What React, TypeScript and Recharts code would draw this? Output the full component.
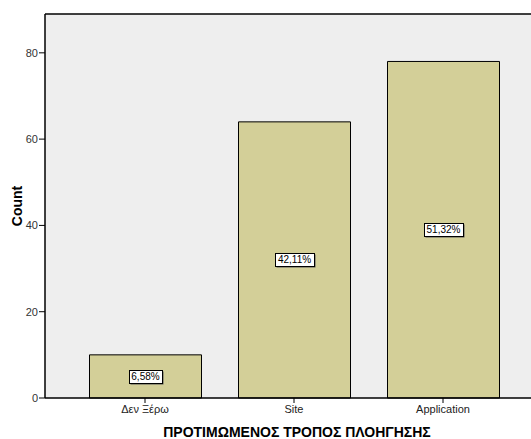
import React from 'react';
import { BarChart, Bar, XAxis, YAxis, CartesianGrid, LabelList, ReferenceLine } from 'recharts';

// Preferred navigation method – respondent counts
const categories = ['Δεν Ξέρω', 'Site', 'Application'];
const counts = [10, 64, 78];
const yTicks = [0, 20, 40, 60, 80];
const yMax = 89;

const total = counts.reduce((a, b) => a + b, 0);
const data = categories.map((name, i) => ({ name, count: counts[i] }));

const FONT = '"Liberation Sans", Arial, sans-serif';
const BAR_FILL = '#D3CF98';
const PLOT_BG = '#EEEEEE';

const pct = (v: number) => ((v / total) * 100).toFixed(2).replace('.', ',') + '%';

// rough Arial glyph widths at 10px for sizing the label box
const charW = (c: string) => (c === ',' ? 2.78 : c === '%' ? 8.89 : 5.56);

const PctLabel = (props: any) => {
  const { x, y, width, height, value } = props;
  const text = pct(Number(value));
  const tw = text.split('').reduce((s, c) => s + charW(c), 0);
  const bw = Math.round(tw + 5);
  const bh = 13;
  const cx = x + width / 2;
  const cy = y + height / 2;
  const rx = Math.round(cx - bw / 2) + 0.5;
  const ry = Math.round(cy - bh / 2) + 0.5;
  return (
    <g>
      <rect x={rx + 1} y={ry + 1} width={bw} height={bh} fill="#555" />
      <rect x={rx} y={ry} width={bw} height={bh} fill="#fff" stroke="#000" strokeWidth={1} />
      <text x={cx} y={cy + 3.5} textAnchor="middle" fontSize={10} fontFamily={FONT} fill="#000">
        {text}
      </text>
    </g>
  );
};

export default function App() {
  return (
    <div style={{ width: 531, height: 439, background: '#fff', fontFamily: FONT }}>
      <style>{`body{margin:0;}`}</style>
      <BarChart
        width={531}
        height={439}
        data={data}
        margin={{ top: 14, right: 0, left: 0, bottom: 0 }}
      >
        <CartesianGrid horizontal={false} vertical={false} fill={PLOT_BG} />
        <ReferenceLine y={yMax} stroke="#000" strokeWidth={1.5} />
        <XAxis
          dataKey="name"
          height={41}
          padding={{ left: 25.5, right: 13.5 }}
          axisLine={{ stroke: '#000', strokeWidth: 1.5 }}
          tickLine={{ stroke: '#000' }}
          tickSize={5}
          tickMargin={2}
          tick={{ fontSize: 11, fill: '#222', fontFamily: FONT }}
          label={{
            value: 'ΠΡΟΤΙΜΩΜΕΝΟΣ ΤΡΟΠΟΣ ΠΛΟΗΓΗΣΗΣ',
            position: 'insideBottom',
            offset: 2,
            dx: 9,
            style: { fontSize: 14, fontWeight: 'bold', fill: '#000', fontFamily: FONT },
          }}
        />
        <YAxis
          width={45}
          domain={[0, yMax]}
          ticks={yTicks}
          interval={0}
          axisLine={{ stroke: '#000', strokeWidth: 1.5 }}
          tickLine={{ stroke: '#000' }}
          tickSize={6}
          tickMargin={1}
          tick={{ fontSize: 11, fill: '#333', fontFamily: FONT }}
          label={{
            value: 'Count',
            angle: -90,
            position: 'insideLeft',
            offset: 17,
            style: { fontSize: 14, fontWeight: 'bold', fill: '#000', fontFamily: FONT, textAnchor: 'middle' },
          }}
        />
        <Bar dataKey="count" fill={BAR_FILL} stroke="#000" strokeWidth={1} barSize={112} isAnimationActive={false}>
          <LabelList dataKey="count" content={<PctLabel />} />
        </Bar>
      </BarChart>
    </div>
  );
}
